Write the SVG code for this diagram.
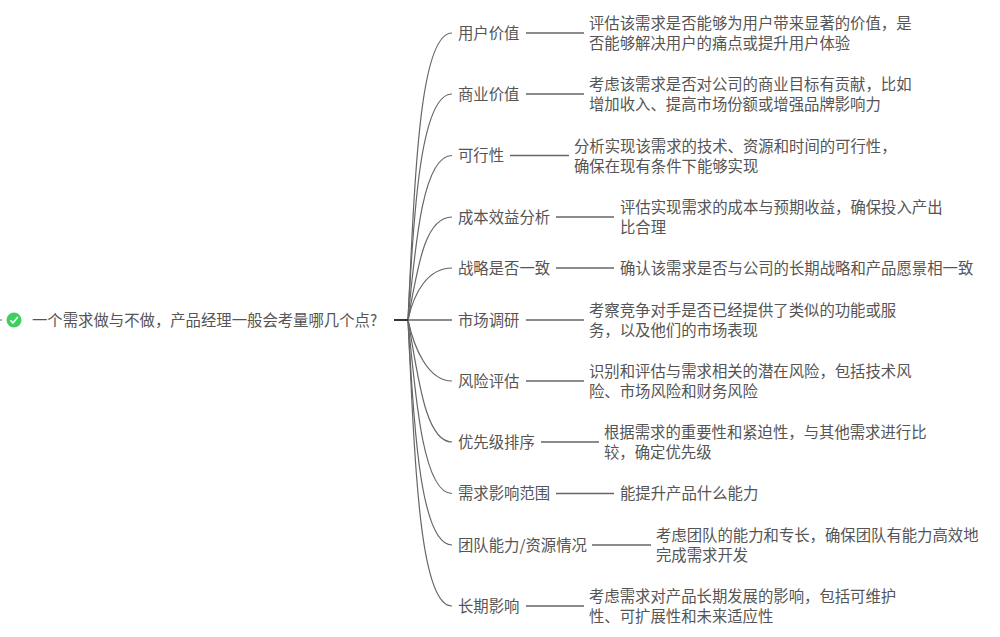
<svg xmlns="http://www.w3.org/2000/svg" width="1000" height="637" viewBox="0 0 1000 637">
<style>
text{font-family:"Noto Sans CJK SC","Liberation Sans",sans-serif;font-size:15.36px;fill:#555}
.c path{fill:none;stroke:#666;stroke-width:1.2}
.c .s{stroke-width:1.5}
.c .t{stroke:#333;stroke-width:2}
</style>
<rect width="1000" height="637" fill="#fff"/>
<g class="c" id="connectors">
<path d="M0 320H2"/>
<path d="M408 320C415 170 420 33 452 33"/>
<path d="M408 320C414 200 422 94 452 94"/>
<path d="M408 320C416 235 424 155.500 452 155.500"/>
<path d="M408 320C418 265 425 217 452 217"/>
<path d="M408 320C414 292 428 268 452 268"/>
<path class="s" d="M408 320H452"/>
<path d="M408 320C414 348 428 381 452 381"/>
<path d="M408 320C418 375 425 442 452 442"/>
<path d="M408 320C416 405 424 493.500 452 493.500"/>
<path d="M408 320C414 440 422 545 452 545"/>
<path d="M408 320C415 470 420 606 452 606"/>
<path class="t" d="M394 320H408"/>
<path class="s" d="M526 33H584"/>
<path class="s" d="M526 94H584"/>
<path class="s" d="M510 155.500H569"/>
<path class="s" d="M556 217H614"/>
<path class="s" d="M556 268H614"/>
<path class="s" d="M526 320H584"/>
<path class="s" d="M526 381H584"/>
<path class="s" d="M541 442H599"/>
<path class="s" d="M556 493.500H614"/>
<path class="s" d="M592 545H651"/>
<path class="s" d="M526 606H584"/>
</g>
<g id="root">
<circle cx="14" cy="320" r="7.500" fill="#3fcf5e"/>
<path d="M10.500 320.300L13 323L17.800 317" fill="none" stroke="#fff" stroke-width="1.600"/>
<text x="32" y="325.500">一个需求做与不做，产品经理一般会考量哪几个点?</text>
</g>
<g id="n1"><text x="458" y="38.500">用户价值</text><text x="589" y="29">评估该需求是否能够为用户带来显著的价值，是</text><text x="589" y="49">否能够解决用户的痛点或提升用户体验</text></g>
<g id="n2"><text x="458" y="99.500">商业价值</text><text x="589" y="90">考虑该需求是否对公司的商业目标有贡献，比如</text><text x="589" y="110">增加收入、提高市场份额或增强品牌影响力</text></g>
<g id="n3"><text x="458" y="161">可行性</text><text x="574" y="151.500">分析实现该需求的技术、资源和时间的可行性，</text><text x="574" y="171.500">确保在现有条件下能够实现</text></g>
<g id="n4"><text x="458" y="222.500">成本效益分析</text><text x="620" y="213">评估实现需求的成本与预期收益，确保投入产出</text><text x="620" y="233">比合理</text></g>
<g id="n5"><text x="458" y="273.500">战略是否一致</text><text x="620" y="273.500">确认该需求是否与公司的长期战略和产品愿景相一致</text></g>
<g id="n6"><text x="458" y="325.500">市场调研</text><text x="589" y="315.500">考察竞争对手是否已经提供了类似的功能或服</text><text x="589" y="336">务，以及他们的市场表现</text></g>
<g id="n7"><text x="458" y="386.500">风险评估</text><text x="589" y="377">识别和评估与需求相关的潜在风险，包括技术风</text><text x="589" y="397">险、市场风险和财务风险</text></g>
<g id="n8"><text x="458" y="448">优先级排序</text><text x="604" y="437.500">根据需求的重要性和紧迫性，与其他需求进行比</text><text x="604" y="457.500">较，确定优先级</text></g>
<g id="n9"><text x="458" y="499">需求影响范围</text><text x="620" y="499">能提升产品什么能力</text></g>
<g id="n10"><text x="458" y="550.500">团队能力/资源情况</text><text x="656" y="541">考虑团队的能力和专长，确保团队有能力高效地</text><text x="656" y="561">完成需求开发</text></g>
<g id="n11"><text x="458" y="611.500">长期影响</text><text x="589" y="602">考虑需求对产品长期发展的影响，包括可维护</text><text x="589" y="622">性、可扩展性和未来适应性</text></g>
</svg>
